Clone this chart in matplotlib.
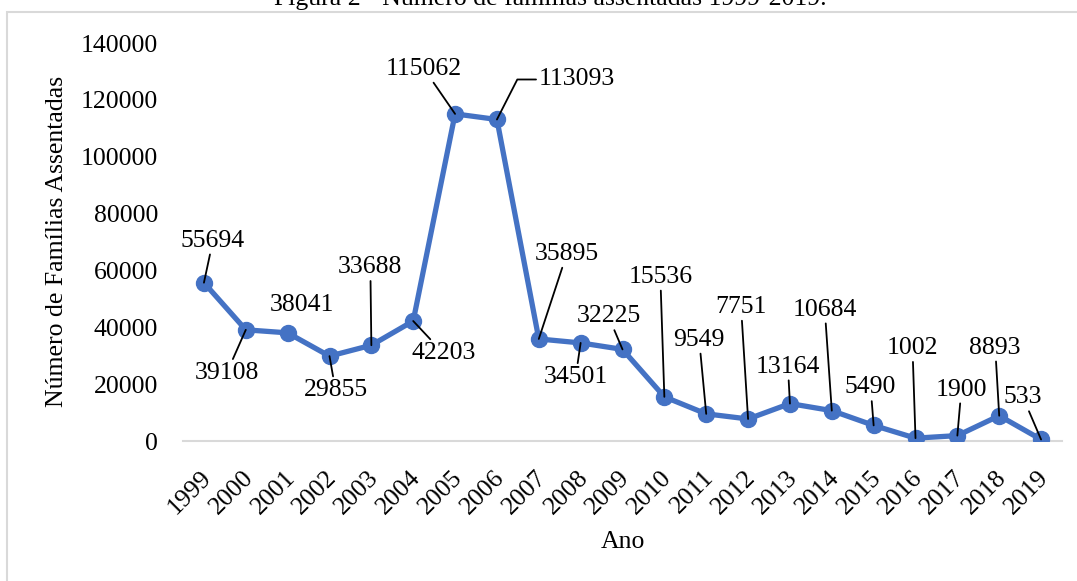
import matplotlib
matplotlib.use("Agg")
import matplotlib.pyplot as plt
from matplotlib.patches import Rectangle
from matplotlib.transforms import ScaledTranslation

# dados: famílias assentadas por ano
anos = [str(a) for a in range(1999, 2020)]
familias = [55694, 39108, 38041, 29855, 33688, 42203, 115062, 113093, 35895, 34501,
            32225, 15536, 9549, 7751, 13164, 10684, 5490, 1002, 1900, 8893, 533]
y_ticks = [0, 20000, 40000, 60000, 80000, 100000, 120000, 140000]

titulo = "Figura 2 - Número de famílias assentadas 1999-2019."

# posição dos rótulos (deslocamento em pixels) e se tem linha de chamada
desloc = [(9, 42), (-19, -43), (14, 28), (6, -34), (-1, 78), (30, -32), (-31, 45),
          (80, 40), (28, 85), (-5, -34), (-14, 33), (-4, 120), (-7, 74), (-7, 112),
          (-2, 37), (-7, 101), (-3, 38), (-3, 90), (4, 46), (-4, 68), (-18, 42)]
chamada = [True, True, False, True, True, True, True, True, True, True, True,
           True, True, True, True, True, True, True, True, True, True]

plt.rcParams['font.family'] = ['Liberation Serif', 'DejaVu Serif']
fs = 18.5
azul = '#4472C4'

fig = plt.figure(figsize=(10.77, 5.81), dpi=100)
ax = fig.add_axes([183 / 1077, 1 - 441 / 581, 879 / 1077, 398 / 581])

x = list(range(len(anos)))
ax.plot(x, familias, color=azul, lw=3.8, marker='o', ms=11.5, zorder=3)

for i, v in enumerate(familias):
    dx, dy = desloc[i]
    props = None
    if chamada[i]:
        props = dict(arrowstyle='-', color='black', lw=1.3, shrinkA=0, shrinkB=0)
        if i == 7:
            # linha com cotovelo no rótulo de 2006
            props['connectionstyle'] = 'angle,angleA=0,angleB=63,rad=0'
            props['relpos'] = (0, 0.5)
    ax.annotate(str(v), (i, v), xytext=(dx, dy), textcoords='offset pixels',
                ha='center', va='center', fontsize=fs, arrowprops=props, zorder=4)

ax.set_xlim(-0.5, len(anos) - 0.5)
ax.set_ylim(0, 140000)
ax.set_yticks(y_ticks)
ax.set_yticklabels([str(t) for t in y_ticks])
ax.set_xticks(x)
ax.set_xticklabels(anos, rotation=45, ha='right', va='center', rotation_mode='anchor')
ax.tick_params(axis='both', length=0, labelsize=fs)
ax.tick_params(axis='y', pad=18)
ax.tick_params(axis='x', pad=24)
for lbl in ax.get_xticklabels():
    lbl.set_transform(lbl.get_transform() + ScaledTranslation(4 / 100, 0, fig.dpi_scale_trans))

for s in ['top', 'right', 'left']:
    ax.spines[s].set_visible(False)
ax.spines['bottom'].set_color('#d9d9d9')
ax.spines['bottom'].set_linewidth(1.5)

ax.set_xlabel('Ano', fontsize=fs)
ax.xaxis.set_label_coords(0.5, -0.254)
ax.xaxis.label.set_va('center')
ax.set_ylabel('Número de Famílias Assentadas', fontsize=fs)
ax.yaxis.set_label_coords(-0.1433, 0.5025)
ax.yaxis.label.set_va('center')

# título cortado no topo, como na figura original
fig.text(550 / 1077, 1 - 5 / 581, titulo, ha='center', va='baseline', fontsize=fs)

# moldura cinza do gráfico
fig.patches.append(Rectangle((7 / 1077, -0.1), 1.2, 1 - 12 / 581 + 0.1,
                             transform=fig.transFigure, fill=False,
                             ec='#d9d9d9', lw=1.5))

fig.savefig('out.png', dpi=100)
